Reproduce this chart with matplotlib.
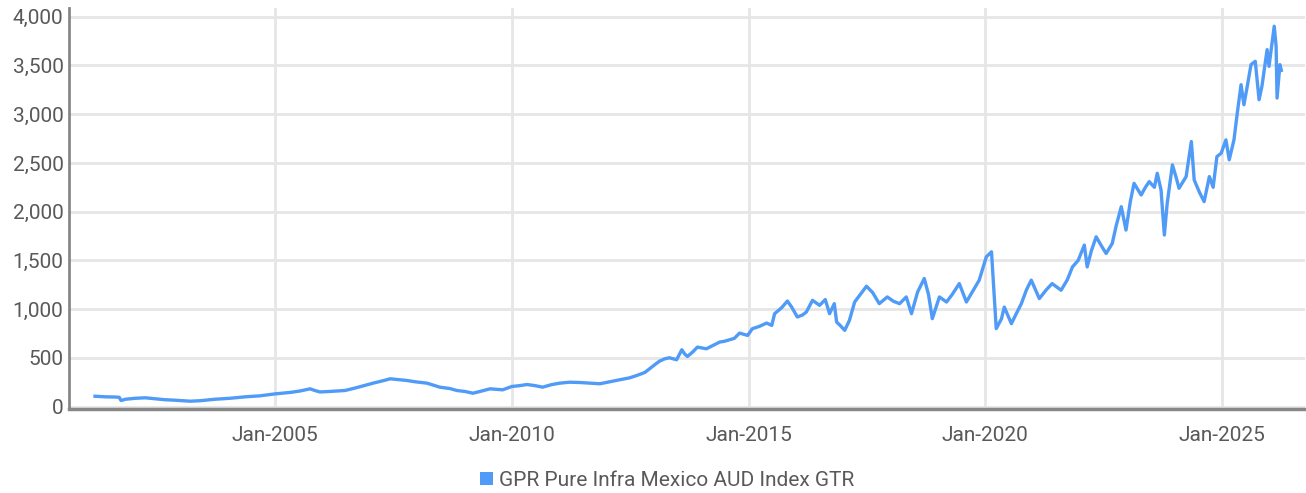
import matplotlib
matplotlib.use("Agg")
import matplotlib.pyplot as plt
from matplotlib.ticker import FuncFormatter, FixedLocator
from matplotlib.patches import Patch

series_name = "GPR Pure Infra Mexico AUD Index GTR"

# decimal years
years = [
    2001.20, 2001.41, 2001.62, 2001.71, 2001.75, 2001.84, 2002.05, 2002.26, 2002.47, 2002.68,
    2002.89, 2003.21, 2003.42, 2003.73, 2004.05, 2004.37, 2004.68, 2005.00, 2005.32, 2005.53,
    2005.74, 2005.84, 2005.95, 2006.16, 2006.48, 2006.69, 2007.07, 2007.32, 2007.43, 2007.64,
    2007.78, 2007.95, 2008.21, 2008.48, 2008.69, 2008.84, 2009.01, 2009.18, 2009.37, 2009.54,
    2009.81, 2010.00, 2010.17, 2010.32, 2010.49, 2010.65, 2010.84, 2011.01, 2011.22, 2011.43,
    2011.65, 2011.86, 2012.07, 2012.28, 2012.49, 2012.64, 2012.81, 2012.91, 2013.02, 2013.12,
    2013.23, 2013.33, 2013.48, 2013.59, 2013.65, 2013.71, 2013.82, 2013.92, 2014.03, 2014.11,
    2014.26, 2014.39, 2014.49, 2014.60, 2014.70, 2014.81, 2014.98, 2015.08, 2015.23, 2015.38,
    2015.49, 2015.55, 2015.70, 2015.82, 2015.91, 2016.03, 2016.14, 2016.22, 2016.35, 2016.50,
    2016.62, 2016.71, 2016.81, 2016.86, 2016.94, 2017.03, 2017.13, 2017.24, 2017.36, 2017.49,
    2017.62, 2017.76, 2017.93, 2018.06, 2018.19, 2018.33, 2018.44, 2018.57, 2018.71, 2018.80,
    2018.88, 2019.03, 2019.18, 2019.30, 2019.45, 2019.60, 2019.73, 2019.87, 2020.02, 2020.13,
    2020.23, 2020.34, 2020.40, 2020.55, 2020.65, 2020.76, 2020.87, 2020.97, 2021.14, 2021.29,
    2021.41, 2021.60, 2021.73, 2021.84, 2021.96, 2022.09, 2022.15, 2022.24, 2022.34, 2022.45,
    2022.55, 2022.68, 2022.76, 2022.87, 2022.97, 2023.06, 2023.14, 2023.29, 2023.38, 2023.46,
    2023.57, 2023.63, 2023.71, 2023.78, 2023.84, 2023.95, 2024.03, 2024.09, 2024.24, 2024.35,
    2024.41, 2024.52, 2024.62, 2024.73, 2024.81, 2024.89, 2024.98, 2025.08, 2025.15, 2025.25,
    2025.32, 2025.40, 2025.46, 2025.53, 2025.61, 2025.70, 2025.78, 2025.84, 2025.95, 2025.99,
    2026.10, 2026.14, 2026.16, 2026.22, 2026.25,
]

values = [
    106, 100, 98, 95, 62, 75, 85, 90, 80, 70,
    65, 55, 60, 75, 85, 100, 110, 130, 145, 160,
    182, 165, 150, 155, 165, 190, 240, 270, 285, 275,
    268, 255, 240, 199, 185, 165, 155, 137, 160, 182,
    172, 206, 215, 226, 215, 199, 225, 240, 250, 247,
    240, 234, 255, 275, 295, 319, 350, 388, 430, 466,
    490, 501, 480, 583, 540, 514, 560, 610, 600, 593,
    630, 662, 670, 686, 700, 754, 730, 799, 823, 857,
    833, 953, 1015, 1083, 1021, 919, 940, 970, 1090, 1039,
    1098, 953, 1056, 867, 830, 782, 885, 1073, 1150, 1235,
    1170, 1056, 1125, 1080, 1056, 1125, 953, 1176, 1314, 1150,
    902, 1125, 1073, 1150, 1262, 1073, 1180, 1297, 1536, 1588,
    800, 900, 1021, 851, 950, 1056, 1200, 1297, 1108, 1200,
    1262, 1194, 1300, 1433, 1500, 1657, 1433, 1600, 1742, 1650,
    1571, 1674, 1850, 2051, 1811, 2100, 2291, 2171, 2250, 2308,
    2250, 2394, 2223, 1760, 2086, 2480, 2350, 2240, 2360, 2720,
    2326, 2200, 2103, 2360, 2250, 2565, 2600, 2737, 2532, 2737,
    3012, 3303, 3097, 3285, 3509, 3543, 3149, 3285, 3663, 3491,
    3903, 3697, 3166, 3509, 3450,
]

tick_years = [2005, 2010, 2015, 2020, 2025]
tick_labels = ["Jan-2005", "Jan-2010", "Jan-2015", "Jan-2020", "Jan-2025"]
y_ticks = [0, 500, 1000, 1500, 2000, 2500, 3000, 3500, 4000]

line_color = "#4f9bf7"
text_color = "#595959"

plt.rcParams["font.family"] = ["Roboto", "DejaVu Sans"]

fig = plt.figure(figsize=(13.06, 4.93), dpi=100)
ax = fig.add_axes([69 / 1306, 1 - 409 / 493, (1305 - 69) / 1306, (409 - 8) / 493])

ax.plot(years, values, color=line_color, linewidth=2.4, solid_joinstyle="round")

ax.set_xlim(2000.65, 2026.75)
ax.set_ylim(-25, 4090)

ax.xaxis.set_major_locator(FixedLocator(tick_years))
ax.set_xticklabels(tick_labels)
ax.set_yticks(y_ticks)
ax.yaxis.set_major_formatter(FuncFormatter(lambda v, p: f"{int(v):,}"))

ax.grid(True, color="#e6e6e6", linewidth=2.0)
ax.set_axisbelow(True)
for s in ["top", "right"]:
    ax.spines[s].set_visible(False)
ax.spines["left"].set_color("#888888")
ax.spines["left"].set_linewidth(2.0)
ax.spines["bottom"].set_color("#888888")
ax.spines["bottom"].set_linewidth(2.5)

ax.tick_params(axis="both", length=0, labelsize=15, labelcolor=text_color)
ax.tick_params(axis="x", pad=12)
ax.tick_params(axis="y", pad=4)

handle = Patch(facecolor=line_color, edgecolor="none")
leg = fig.legend([handle], [series_name], loc="center",
                 bbox_to_anchor=(667 / 1306, 1 - 480 / 493), frameon=False,
                 handlelength=0.6, handleheight=0.6, handletextpad=0.3,
                 prop={"size": 15})
for t in leg.get_texts():
    t.set_color(text_color)

fig.savefig("out.png", dpi=100)
